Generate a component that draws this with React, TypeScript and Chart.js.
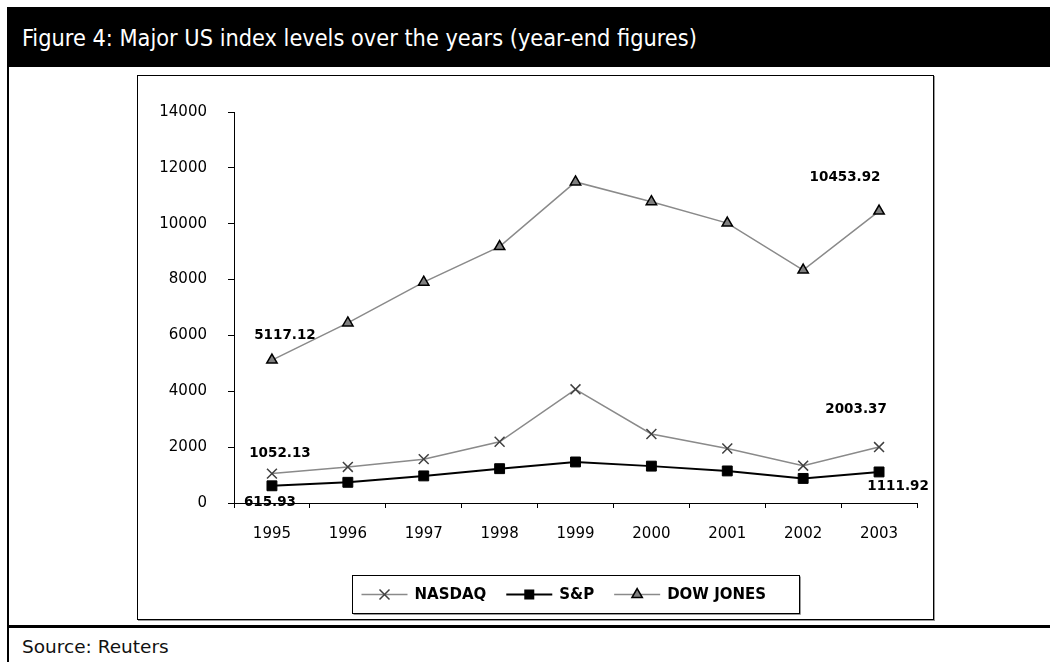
import React, { useEffect, useRef } from "react";
import { Chart, registerables } from "chart.js";

Chart.register(...registerables);

const years = ["1995", "1996", "1997", "1998", "1999", "2000", "2001", "2002", "2003"];
const nasdaq = [1052.13, 1291.03, 1570.35, 2192.69, 4069.31, 2470.52, 1950.4, 1335.51, 2003.37];
const sp = [615.93, 740.74, 970.43, 1229.23, 1469.25, 1320.28, 1148.08, 879.82, 1111.92];
const dow = [5117.12, 6448.27, 7908.25, 9181.43, 11497.12, 10786.85, 10021.5, 8341.63, 10453.92];
const seriesNames = ["NASDAQ", "S&P", "DOW JONES"];
const yMin = 0;
const yMax = 14000;
const yStep = 2000;

// label offsets (style only): [firstDx, firstDy, lastDx, lastDy]
const labelOffsets = [
  [8, -20, -23, -38],
  [-2, 17, 19, 15],
  [13, -25, -34, -34],
];

const FONT = "'DejaVu Sans', sans-serif";

function drawMarker(ctx: CanvasRenderingContext2D, style: string, x: number, y: number) {
  ctx.save();
  if (style === "cross") {
    ctx.strokeStyle = "#404040";
    ctx.lineWidth = 1.5;
    const r = 5;
    ctx.beginPath();
    ctx.moveTo(x - r, y - r);
    ctx.lineTo(x + r, y + r);
    ctx.moveTo(x + r, y - r);
    ctx.lineTo(x - r, y + r);
    ctx.stroke();
  } else if (style === "rect") {
    ctx.fillStyle = "#000";
    ctx.fillRect(x - 5, y - 5, 10, 10);
  } else {
    const r = 6;
    ctx.fillStyle = "#808080";
    ctx.strokeStyle = "#000";
    ctx.lineWidth = 1.5;
    ctx.beginPath();
    ctx.moveTo(x, y - r);
    ctx.lineTo(x + r * 0.866, y + r / 2);
    ctx.lineTo(x - r * 0.866, y + r / 2);
    ctx.closePath();
    ctx.fill();
    ctx.stroke();
  }
  ctx.restore();
}

const markerKinds = ["cross", "rect", "triangle"];
const lineColors = ["#8a8a8a", "#000000", "#8a8a8a"];
const lineWidths = [1.5, 2, 1.5];

const labelPlugin = {
  id: "endLabels",
  afterDatasetsDraw(chart: any) {
    const ctx = chart.ctx as CanvasRenderingContext2D;
    ctx.save();
    ctx.font = `bold 13.5px ${FONT}`;
    ctx.fillStyle = "#000";
    ctx.textAlign = "center";
    ctx.textBaseline = "middle";
    chart.data.datasets.forEach((ds: any, i: number) => {
      const meta = chart.getDatasetMeta(i);
      const n = ds.data.length;
      const first = meta.data[0];
      const last = meta.data[n - 1];
      const off = labelOffsets[i];
      ctx.fillText(ds.data[0].toFixed(2), first.x + off[0], first.y + off[1]);
      ctx.fillText(ds.data[n - 1].toFixed(2), last.x + off[2], last.y + off[3]);
    });
    ctx.restore();
  },
};

const legendPlugin = {
  id: "boxLegend",
  afterDraw(chart: any) {
    const ctx = chart.ctx as CanvasRenderingContext2D;
    const area = chart.chartArea;
    const boxW = 447;
    const boxH = 38;
    const cx = (area.left + area.right) / 2;
    const left = Math.round(cx - boxW / 2) + 0.5;
    const top = area.bottom + 72.5;
    ctx.save();
    ctx.strokeStyle = "#000";
    ctx.lineWidth = 1;
    ctx.strokeRect(left, top, boxW, boxH);
    ctx.strokeStyle = "#999";
    ctx.beginPath();
    ctx.moveTo(left + 1, top + boxH + 1);
    ctx.lineTo(left + boxW + 1, top + boxH + 1);
    ctx.lineTo(left + boxW + 1, top + 1);
    ctx.stroke();
    ctx.font = `bold 15px ${FONT}`;
    ctx.textBaseline = "middle";
    ctx.textAlign = "left";
    const yc = top + boxH / 2;
    let x = left + 9;
    chart.data.datasets.forEach((ds: any, i: number) => {
      ctx.strokeStyle = lineColors[i];
      ctx.lineWidth = lineWidths[i];
      ctx.beginPath();
      ctx.moveTo(x, yc);
      ctx.lineTo(x + 46, yc);
      ctx.stroke();
      drawMarker(ctx, markerKinds[i], x + 23, yc);
      x += 53;
      ctx.fillStyle = "#000";
      ctx.fillText(ds.label, x, yc + 1);
      x += ctx.measureText(ds.label).width + 20;
    });
    ctx.restore();
  },
};

export default function App() {
  const ref = useRef<HTMLCanvasElement | null>(null);
  useEffect(() => {
    if (!ref.current) return;
    const chart = new Chart(ref.current, {
      type: "line",
      data: {
        labels: years,
        datasets: [
          {
            label: seriesNames[0],
            data: nasdaq,
            borderColor: lineColors[0],
            borderWidth: lineWidths[0],
            pointStyle: "crossRot",
            pointRadius: 7,
            pointBorderColor: "#404040",
            pointBorderWidth: 1.5,
            pointBackgroundColor: "#404040",
            tension: 0,
          },
          {
            label: seriesNames[1],
            data: sp,
            borderColor: lineColors[1],
            borderWidth: lineWidths[1],
            pointStyle: "rect",
            pointRadius: 7,
            pointBorderColor: "#000",
            pointBorderWidth: 1,
            pointBackgroundColor: "#000",
            tension: 0,
          },
          {
            label: seriesNames[2],
            data: dow,
            borderColor: lineColors[2],
            borderWidth: lineWidths[2],
            pointStyle: "triangle",
            pointRadius: 6,
            pointBorderColor: "#000",
            pointBorderWidth: 1.5,
            pointBackgroundColor: "#808080",
            tension: 0,
          },
        ],
      },
      options: {
        animation: false,
        responsive: false,
        devicePixelRatio: 1,
        layout: { padding: { left: 0, top: 36, right: 16, bottom: 0 } },
        plugins: {
          legend: { display: false },
          tooltip: { enabled: false },
          title: { display: false },
        },
        scales: {
          x: {
            type: "category",
            offset: true,
            grid: {
              offset: true,
              drawOnChartArea: false,
              drawTicks: true,
              tickLength: 5,
              color: "#000",
            },
            border: { display: true, color: "#000", width: 1 },
            ticks: {
              color: "#000",
              padding: 17,
              font: { family: FONT, size: 15 },
              maxRotation: 0,
            },
            afterFit(scale: any) {
              scale.height = 116;
            },
          },
          y: {
            min: yMin,
            max: yMax,
            grid: {
              drawOnChartArea: false,
              drawTicks: true,
              tickLength: 6,
              color: "#000",
            },
            border: { display: true, color: "#000", width: 1 },
            ticks: {
              stepSize: yStep,
              color: "#000",
              padding: 21,
              font: { family: FONT, size: 15 },
              callback: (v: any) => String(v),
            },
            afterFit(scale: any) {
              scale.width = 96;
            },
          },
        },
      },
      plugins: [labelPlugin, legendPlugin],
    } as any);
    return () => chart.destroy();
  }, []);

  return (
    <div style={{ position: "absolute", left: 0, top: 0, width: 1050, height: 662, background: "#fff", overflow: "hidden" }}>
      <div
        style={{
          position: "absolute",
          left: 7,
          top: 7,
          width: 1043,
          height: 60,
          background: "#000",
          color: "#fff",
          display: "flex",
          alignItems: "center",
          paddingLeft: 15,
          boxSizing: "border-box",
          fontFamily: "'DejaVu Sans Condensed', 'DejaVu Sans', sans-serif",
          fontSize: 23.3,
          whiteSpace: "nowrap",
        }}
      >
        Figure 4: Major US index levels over the years (year-end figures)
      </div>
      <div style={{ position: "absolute", left: 7, top: 67, width: 2, height: 595, background: "#000" }} />
      <div style={{ position: "absolute", left: 7, top: 625, width: 1043, height: 3, background: "#000" }} />
      <div
        style={{
          position: "absolute",
          left: 22,
          top: 636,
          fontFamily: "'DejaVu Sans', sans-serif",
          fontSize: 18.5,
          color: "#111",
          whiteSpace: "nowrap",
        }}
      >
        Source: Reuters
      </div>
      <div
        style={{
          position: "absolute",
          left: 137,
          top: 75,
          width: 795,
          height: 543,
          border: "1px solid #000",
          boxShadow: "1px 1px 0 #999",
        }}
      >
        <canvas ref={ref} width={795} height={543} style={{ display: "block", width: 795, height: 543 }} />
      </div>
    </div>
  );
}
